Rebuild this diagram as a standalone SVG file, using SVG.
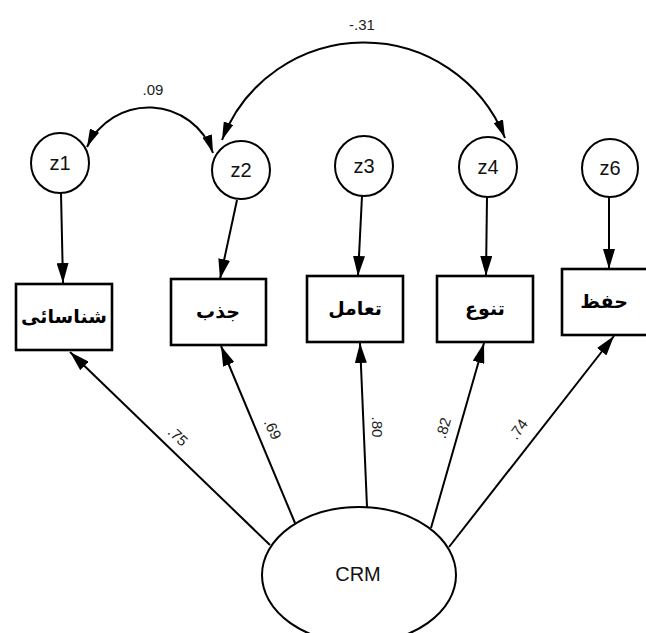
<svg xmlns="http://www.w3.org/2000/svg" width="646" height="633" viewBox="0 0 646 633">
<defs>
<marker id="ah" markerUnits="userSpaceOnUse" markerWidth="20" markerHeight="12" refX="20" refY="6" orient="auto-start-reverse" viewBox="0 0 20 12">
<path d="M0,0 L20,6 L0,12 z" fill="#000"/>
</marker>
<marker id="ahs" markerUnits="userSpaceOnUse" markerWidth="18" markerHeight="10" refX="18" refY="5" orient="auto-start-reverse" viewBox="0 0 18 10">
<path d="M0,0 L18,5 L0,10 z" fill="#000"/>
</marker>
</defs>
<style>
.bg{fill:#fff}
.node ellipse{fill:#fff;stroke:#000;stroke-width:2}
.node rect{fill:#fff;stroke:#000;stroke-width:2.6}
.lbl{font-family:"Liberation Sans",Arial,sans-serif;fill:#111;text-anchor:middle;dominant-baseline:central}
.ar{font-family:"Liberation Sans","DejaVu Sans",sans-serif;font-weight:bold;font-size:19px;fill:#000;text-anchor:middle;dominant-baseline:central}
.val{font-family:"Liberation Sans",Arial,sans-serif;font-size:15px;fill:#222;text-anchor:middle;dominant-baseline:central}
.edge{fill:none;stroke:#000;stroke-width:2;marker-end:url(#ah)}
.cov{fill:none;stroke:#000;stroke-width:2;marker-start:url(#ahs);marker-end:url(#ahs)}
</style>
<rect class="bg" x="0" y="0" width="646" height="633"/>

<g id="connectors">
<path class="cov" d="M87,147 A68,68 0 0 1 213,153"/>
<path class="cov" d="M222,140 A152,152 0 0 1 505,138"/>
<line class="edge" x1="61" y1="193" x2="63" y2="283"/>
<line class="edge" x1="237" y1="200" x2="220" y2="279"/>
<line class="edge" x1="362" y1="196" x2="358" y2="276"/>
<line class="edge" x1="487" y1="197" x2="486" y2="276"/>
<line class="edge" x1="609" y1="197" x2="609" y2="269"/>
<line class="edge" x1="270" y1="545" x2="70" y2="352"/>
<line class="edge" x1="295" y1="523" x2="221" y2="346"/>
<line class="edge" x1="367" y1="507" x2="360" y2="343"/>
<line class="edge" x1="431" y1="528" x2="484" y2="343"/>
<line class="edge" x1="449" y1="547" x2="614" y2="336"/>
<text class="val" x="153" y="89">.09</text>
<text class="val" x="362" y="24">-.31</text>
<text class="val" transform="translate(178,436) rotate(43)">.75</text>
<text class="val" transform="translate(273,429) rotate(65)">.69</text>
<text class="val" transform="translate(377,427) rotate(90)">.80</text>
<text class="val" transform="translate(443,428) rotate(-73)">.82</text>
<text class="val" transform="translate(518,429) rotate(-55)">.74</text>
</g>

<g id="z1" class="node"><ellipse cx="60" cy="163" rx="29" ry="30"/><text class="lbl" x="60" y="163" font-size="20">z1</text></g>
<g id="z2" class="node"><ellipse cx="241" cy="170" rx="29" ry="29"/><text class="lbl" x="241" y="170" font-size="20">z2</text></g>
<g id="z3" class="node"><ellipse cx="364" cy="166" rx="29" ry="30"/><text class="lbl" x="364" y="166" font-size="20">z3</text></g>
<g id="z4" class="node"><ellipse cx="488" cy="167" rx="29" ry="30"/><text class="lbl" x="488" y="167" font-size="20">z4</text></g>
<g id="z6" class="node"><ellipse cx="610" cy="168" rx="28" ry="29"/><text class="lbl" x="610" y="168" font-size="20">z6</text></g>

<g id="b1" class="node"><rect x="16" y="284" width="96" height="66"/><text class="ar" x="64" y="316">شناسائی</text></g>
<g id="b2" class="node"><rect x="171" y="279" width="95" height="66"/><text class="ar" x="218" y="311">جذب</text></g>
<g id="b3" class="node"><rect x="307" y="276" width="96" height="66"/><text class="ar" x="355" y="308">تعامل</text></g>
<g id="b4" class="node"><rect x="437" y="276" width="96" height="66"/><text class="ar" x="485" y="308">تنوع</text></g>
<g id="b5" class="node"><rect x="562" y="269" width="96" height="66"/><text class="ar" x="604" y="301">حفظ</text></g>

<g id="CRM" class="node"><ellipse cx="359" cy="575" rx="97" ry="68"/><text class="lbl" x="358" y="574" font-size="20">CRM</text></g>
</svg>
